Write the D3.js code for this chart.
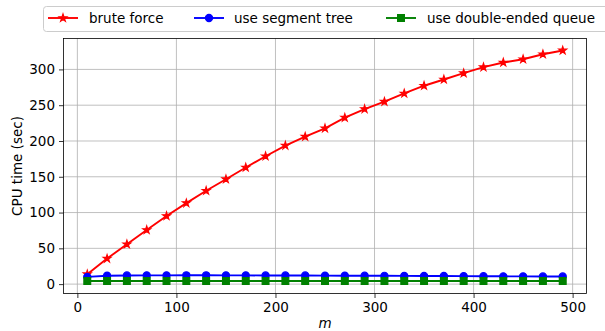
<!DOCTYPE html>
<html><head><meta charset="utf-8">
<script src="https://cdn.jsdelivr.net/npm/d3@7"></script>
<style>body{margin:0;background:#fff}svg{display:block}text{font-family:"DejaVu Sans",sans-serif}</style>
</head><body><svg id="c" width="605" height="331"></svg>
<script>
const mValues = [10,30,50,70,90,110,130,150,170,190,210,230,250,270,290,310,330,350,370,390,410,430,450,470,490];
const bruteForce = [13.9,35.7,55.7,75.6,95.1,113.2,130.4,146.6,163,178.7,193.6,206.1,217.7,232.6,244.6,254.9,266.4,277.2,285.9,294.7,303.1,309.6,314.2,321.2,326.5];
const segmentTree = [10.2,11.8,12.1,12.2,12.2,12.3,12.3,12.2,12.2,12.1,12.0,12.0,11.9,11.8,11.7,11.6,11.5,11.4,11.3,11.2,11.0,10.9,10.8,10.7,10.6];
const dequeTime = [4.4,4.4,4.4,4.4,4.4,4.4,4.4,4.4,4.4,4.4,4.4,4.4,4.4,4.4,4.4,4.4,4.4,4.4,4.4,4.4,4.4,4.4,4.4,4.4,4.4];
const xTicks = [0,100,200,300,400,500];
const yTicks = [0,50,100,150,200,250,300];
const seriesNames = ["brute force","use segment tree","use double-ended queue"];
const seriesColors = ["#ff0000","#0000ff","#008000"];

const svg = d3.select("#c");
const L=63.5, R=586.5, T=38.5, B=293.5;
const x = d3.scaleLinear().domain([-14,514]).range([L,R]);
const y = d3.scaleLinear().domain([-13.1,343.2]).range([B,T]);

// grid
const g = svg.append("g");
g.selectAll("line.gx").data(xTicks).join("line")
  .attr("x1",d=>x(d)).attr("x2",d=>x(d)).attr("y1",T).attr("y2",B)
  .attr("stroke","#b0b0b0").attr("stroke-width",0.8);
g.selectAll("line.gy").data(yTicks).join("line")
  .attr("y1",d=>y(d)).attr("y2",d=>y(d)).attr("x1",L).attr("x2",R)
  .attr("stroke","#b0b0b0").attr("stroke-width",0.8);

// axes
const xa = svg.append("g").attr("transform",`translate(0,${B})`)
  .call(d3.axisBottom(x).tickValues(xTicks).tickSize(4.5).tickPadding(4).tickFormat(d3.format("d")));
const ya = svg.append("g").attr("transform",`translate(${L},0)`)
  .call(d3.axisLeft(y).tickValues(yTicks).tickSize(4.5).tickPadding(4).tickFormat(d3.format("d")));
[xa,ya].forEach(a=>{
  a.select(".domain").remove();
  a.selectAll("text").attr("font-size",13.5).attr("fill","#000").style("font-family","DejaVu Sans");
  a.selectAll("line").attr("stroke","#000").attr("stroke-width",0.8);
});
svg.append("rect").attr("x",L).attr("y",T).attr("width",R-L).attr("height",B-T)
  .attr("fill","none").attr("stroke","#000").attr("stroke-width",0.8);

// series
const datasets = [bruteForce, segmentTree, dequeTime];
const symbols = [d3.symbolStar, d3.symbolCircle, d3.symbolSquare];
const sizes = [18, 40, 46];
const line = d3.line().x((d,i)=>x(mValues[i])).y(d=>y(d));
datasets.forEach((ds,k)=>{
  svg.append("path").datum(ds).attr("d",line).attr("fill","none")
    .attr("stroke",seriesColors[k]).attr("stroke-width",1.9);
  svg.append("g").selectAll("path").data(ds).join("path")
    .attr("transform",(d,i)=>`translate(${x(mValues[i])},${y(d)})`)
    .attr("d",d3.symbol().type(symbols[k]).size(sizes[k]))
    .attr("fill",seriesColors[k]).attr("stroke",seriesColors[k]).attr("stroke-width",1.2);
});

// axis labels
svg.append("text").attr("x",(L+R)/2).attr("y",328).attr("text-anchor","middle")
  .attr("font-size",13.5).attr("font-style","italic").text("m");
svg.append("text").attr("transform",`translate(21.5,${(T+B)/2}) rotate(-90)`)
  .attr("text-anchor","middle").attr("font-size",13.5).text("CPU time (sec)");

// legend
const lg = svg.append("g");
lg.append("rect").attr("x",43.5).attr("y",6.5).attr("width",580).attr("height",25).attr("rx",3)
  .attr("fill","#fff").attr("fill-opacity",0.8).attr("stroke","#cccccc").attr("stroke-width",1);
const legX = [48,194,386];
const textX = [89,234,427];
seriesNames.forEach((n,k)=>{
  const cy = 18;
  lg.append("line").attr("x1",legX[k]).attr("x2",legX[k]+30).attr("y1",cy).attr("y2",cy)
    .attr("stroke",seriesColors[k]).attr("stroke-width",1.9);
  lg.append("path").attr("transform",`translate(${legX[k]+15},${cy})`)
    .attr("d",d3.symbol().type(symbols[k]).size(sizes[k]))
    .attr("fill",seriesColors[k]).attr("stroke",seriesColors[k]).attr("stroke-width",1.2);
  lg.append("text").attr("x",textX[k]).attr("y",cy+5).attr("font-size",13.5).text(n);
});
</script></body></html>
